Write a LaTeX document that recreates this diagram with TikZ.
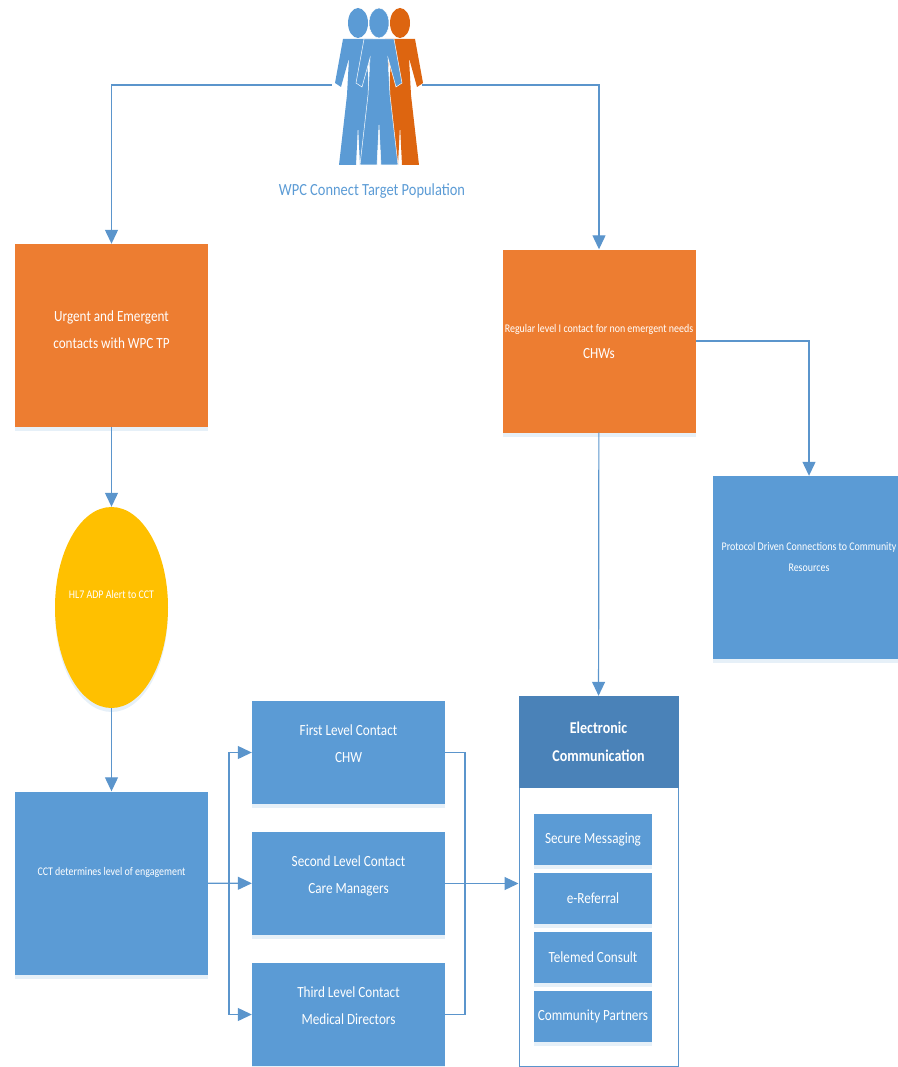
\documentclass[tikz,border=0pt]{standalone}
\usepackage{fontspec}
\setmainfont[FakeStretch=0.85]{Carlito}
\usetikzlibrary{arrows.meta,shapes.geometric,shadows}
\definecolor{wpcblue}{HTML}{5B9BD5}
\definecolor{wpcorange}{HTML}{ED7D31}
\definecolor{wpcyellow}{HTML}{FFC000}
\definecolor{wpcdark}{HTML}{4A82B8}
\definecolor{wpcrust}{HTML}{DD6510}
\definecolor{wpcline}{HTML}{5B95CC}
\tikzset{
  softshadow/.style={drop shadow={shadow xshift=0pt,shadow yshift=-4pt,fill=wpcblue!25,opacity=0.6}},
  bigbox/.style={rectangle,minimum width=193pt,minimum height=183pt,inner sep=1pt,text=white,align=center,font=\fontsize{15.5}{27}\selectfont,softshadow},
  orangebox/.style={bigbox,fill=wpcorange},
  bluebox/.style={bigbox,fill=wpcblue},
  levelbox/.style={bluebox,minimum height=103pt,text depth=18pt},
  subbox/.style={rectangle,fill=wpcblue,minimum width=118pt,minimum height=51pt,inner sep=0pt,text=white,font=\fontsize{15.5}{17}\selectfont,softshadow},
  tinytext/.style={font=\fontsize{11.7}{21}\selectfont},
  link/.style={draw=wpcline,line width=1.2pt,-{Triangle[length=14pt,width=13pt]}},
  plainlink/.style={draw=wpcline,line width=1.2pt},
  person/.pic={
    \fill[pic actions] (0,23) ellipse [x radius=10,y radius=15];
    \path[pic actions] (-15,39) -- (15,39) -- (23,83) -- (17,87) -- (9,58) -- (11,95) -- (19,165)
      -- (2,165) -- (0,125) -- (-2,165) -- (-19,165) -- (-11,95) -- (-9,58) -- (-17,87) -- (-23,83) -- cycle;
  }
}
\begin{document}
\begin{tikzpicture}[x=1pt,y=-1pt]
  \useasboundingbox (0,0) rectangle (897,1067);
  \pic[fill=wpcrust] at (400,0) {person};
  \pic[fill=wpcblue] at (358,0) {person};
  \pic[fill=wpcblue,draw=white,line width=0.5pt] at (379,0) {person};
  \draw
    (377,85) node[minimum width=90pt,minimum height=170pt,inner sep=0pt] (people){}
    (372,191) node[text=wpcblue,font=\fontsize{17}{20}\selectfont] (peoplelabel){WPC Connect Target Population}
    (111.5,335.5) node[orangebox,text depth=11pt] (urgent){Urgent and Emergent\\contacts with WPC TP}
    (599,341) node[orangebox,font=\fontsize{15.5}{26}\selectfont] (regular){{\fontsize{11.7}{26}\selectfont Regular level I contact for non emergent needs}\\CHWs}
    (809,567.5) node[bluebox,tinytext] (protocol){Protocol Driven Connections to Community\\Resources\\\mbox{}}
    (111.5,607.5) node[ellipse,fill=wpcyellow,minimum width=113pt,minimum height=201pt,inner sep=-6pt,text=white,tinytext,text depth=26pt,softshadow] (alert){HL7 ADP Alert to CCT}
    (111.5,883) node[bluebox,tinytext,text depth=24pt] (cct){CCT determines level of engagement}
    (348.5,752.5) node[levelbox] (first){First Level Contact\\CHW}
    (348.5,883.5) node[levelbox] (second){Second Level Contact\\Care Managers}
    (348.5,1014.5) node[levelbox] (third){Third Level Contact\\Medical Directors}
    (598.5,881) node[rectangle,draw=wpcline,line width=1pt,fill=white,minimum width=159pt,minimum height=370pt] (ecomm){}
    (598.5,742) node[rectangle,fill=wpcdark,minimum width=160pt,minimum height=92pt,text=white,align=center,text depth=0pt,font=\bfseries\fontsize{16.5}{28}\selectfont] (ecommhead){Electronic\\Communication}
    (593,839.5) node[subbox] (secure){Secure Messaging}
    (593,898.5) node[subbox] (referral){e-Referral}
    (593,957.5) node[subbox] (telemed){Telemed Consult}
    (593,1016) node[subbox] (partners){Community Partners};
  \coordinate (branch) at (229,883);
  \coordinate (merge) at (465,883);
  \begin{scope}[link]
    \draw (people.west) -| (urgent.north);
    \draw (people.east) -| (regular.north);
    \draw (urgent) to (alert);
    \draw (alert) to (cct);
    \draw (regular) to (ecommhead);
    \draw (regular.east) -| (protocol.north);
    \draw (cct) to (second);
    \draw (branch) |- (first.west);
    \draw (branch) |- (third.west);
    \draw (second.east) to (ecomm.west |- second.east);
  \end{scope}
  \begin{scope}[plainlink]
    \draw (first.east) -| (merge);
    \draw (third.east) -| (merge);
  \end{scope}
\end{tikzpicture}
\end{document}
